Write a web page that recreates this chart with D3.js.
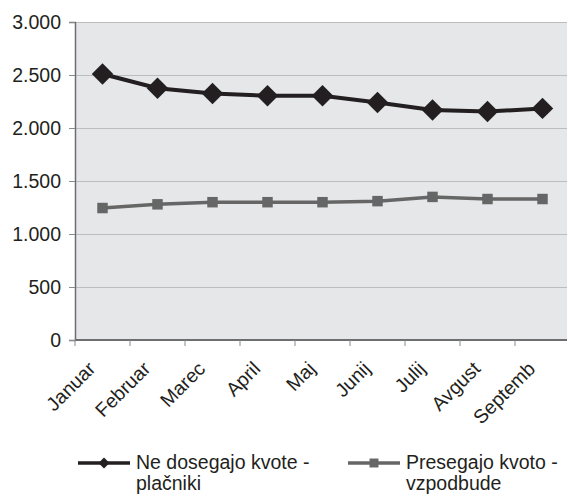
<!DOCTYPE html>
<html>
<head>
<meta charset="utf-8">
<script src="https://cdn.jsdelivr.net/npm/d3@7"></script>
<style>
  html, body { margin: 0; padding: 0; background: #fff; overflow: hidden; }
  svg text { font-family: "Liberation Sans", Arial, sans-serif; fill: #231f20; }
</style>
</head>
<body>
<div id="chart"></div>
<script>
// ── Data ──────────────────────────────────────────────────────────────────
const months = ["Januar", "Februar", "Marec", "April", "Maj", "Junij", "Julij", "Avgust", "Septemb"];
const neDosegajo = [2510, 2375, 2325, 2305, 2305, 2240, 2170, 2155, 2185];
const presegajo  = [1245, 1280, 1300, 1300, 1300, 1310, 1350, 1330, 1330];
const yTicks = [0, 500, 1000, 1500, 2000, 2500, 3000];
const seriesNames = [["Ne dosegajo kvote -", "plačniki"], ["Presegajo kvoto -", "vzpodbude"]];

// ── Layout ────────────────────────────────────────────────────────────────
const totalW = 567, totalH = 495;
const margin = { top: 22, left: 75, bottom: 155 };
const W = 495;                         // plot runs past the right edge
const H = totalH - margin.top - margin.bottom;
const FONT = 19.5;

const svg = d3.select("#chart").append("svg")
  .attr("width", totalW).attr("height", totalH);

const g = svg.append("g")
  .attr("transform", `translate(${margin.left},${margin.top})`);

// ── Scales ────────────────────────────────────────────────────────────────
const x = d3.scaleBand().domain(months).range([0, W]);
const y = d3.scaleLinear().domain([0, 3000]).range([H, 0]);
const fmt = d => d3.format(",")(d).replace(/,/g, ".");

// plot background
g.append("rect").attr("width", W).attr("height", H).attr("fill", "#e6e7e8");

// grid
g.append("g")
  .call(d3.axisLeft(y).tickValues(yTicks).tickSize(-W).tickFormat(""))
  .call(s => s.select(".domain").remove())
  .selectAll("line").attr("stroke", "#bcbdbf").attr("stroke-width", 1);

// y axis
g.append("g")
  .call(d3.axisLeft(y).tickValues(yTicks).tickSize(6).tickPadding(8).tickFormat(fmt))
  .call(s => s.select(".domain").attr("stroke", "#6d6e70").attr("stroke-width", 1.5))
  .call(s => s.selectAll("line").attr("stroke", "#8a8b8d"))
  .call(s => s.selectAll("text").attr("font-size", FONT).attr("fill", "#231f20")
    .attr("font-family", '"Liberation Sans", Arial, sans-serif'));

// x axis (ticks at category boundaries)
const xAxis = g.append("g").attr("transform", `translate(0,${H})`);
xAxis.append("line").attr("x1", 0).attr("x2", W)
  .attr("stroke", "#6d6e70").attr("stroke-width", 2);
xAxis.selectAll(".tk").data(months.concat(["_end"])).join("line")
  .attr("x1", (d, i) => i * x.step()).attr("x2", (d, i) => i * x.step())
  .attr("y1", 0).attr("y2", 6).attr("stroke", "#8a8b8d");
xAxis.selectAll(".lbl").data(months).join("text")
  .attr("transform", d => `translate(${x(d) + x.bandwidth() / 2 - 6},${30}) rotate(-45)`)
  .attr("text-anchor", "end")
  .attr("font-size", FONT)
  .text(d => d);

// ── Series ────────────────────────────────────────────────────────────────
const cx = d => x(d) + x.bandwidth() / 2;
const line = vals => d3.line().x((d, i) => cx(months[i])).y(d => y(d))(vals);

const square = d3.symbol().type(d3.symbolSquare).size(110);

g.append("path").attr("d", line(presegajo))
  .attr("fill", "none").attr("stroke", "#666666").attr("stroke-width", 3.5);
g.selectAll(".sq").data(presegajo).join("path")
  .attr("transform", (d, i) => `translate(${cx(months[i])},${y(d)})`)
  .attr("d", square).attr("fill", "#666666");

g.append("path").attr("d", line(neDosegajo))
  .attr("fill", "none").attr("stroke", "#231f20").attr("stroke-width", 4);
g.selectAll(".dm").data(neDosegajo).join("path")
  .attr("transform", (d, i) => `translate(${cx(months[i])},${y(d)}) rotate(45)`)
  .attr("d", d3.symbol().type(d3.symbolSquare).size(230)).attr("fill", "#231f20");

// ── Legend ────────────────────────────────────────────────────────────────
const legend = [
  { x: 78,  color: "#231f20", sym: "d", name: seriesNames[0] },
  { x: 348, color: "#666666", sym: "s", name: seriesNames[1] },
];
legend.forEach(l => {
  const lg = svg.append("g").attr("transform", `translate(${l.x},463)`);
  lg.append("line").attr("x1", 0).attr("x2", 52)
    .attr("stroke", l.color).attr("stroke-width", 3.5);
  lg.append("path")
    .attr("transform", l.sym === "d" ? "translate(26,0) rotate(45)" : "translate(26,0)")
    .attr("d", d3.symbol().type(d3.symbolSquare).size(l.sym === "d" ? 60 : 80))
    .attr("fill", l.color);
  const t = lg.append("text").attr("x", 58).attr("y", 6).attr("font-size", FONT);
  t.append("tspan").attr("x", 58).text(l.name[0]);
  t.append("tspan").attr("x", 58).attr("dy", 21).text(l.name[1]);
});
</script>
</body>
</html>
